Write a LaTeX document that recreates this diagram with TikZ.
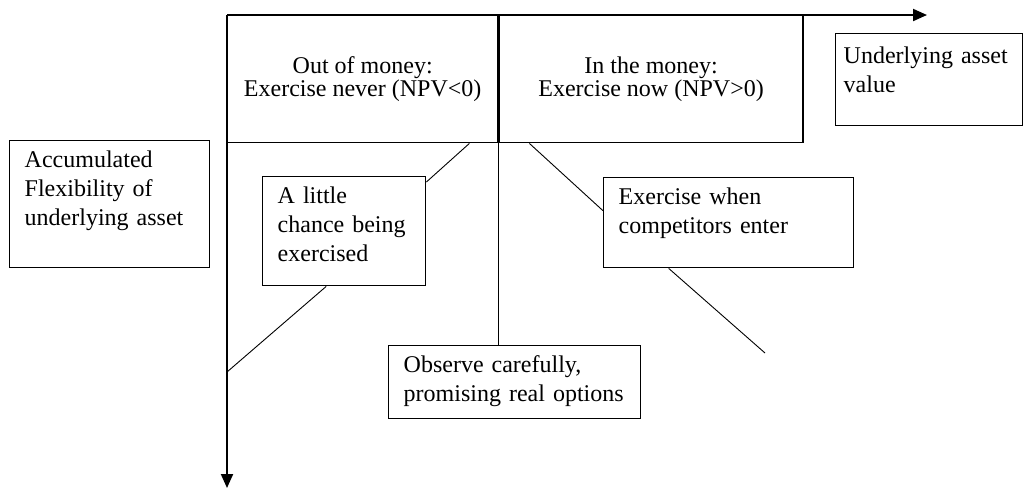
\documentclass[tikz,border=0pt]{standalone}
\usepackage{fontspec}
\setmainfont{Liberation Serif}
\usetikzlibrary{arrows.meta,positioning}

\tikzset{
	cell/.style={draw, line width=0.7pt, minimum height=63.5pt, inner sep=0pt, align=center, font=\fontsize{12}{11.5}\selectfont},
	note/.style={draw, line width=0.7pt, anchor=north west, align=left, inner xsep=7.5pt, inner ysep=0pt, text height=13.5pt, font=\fontsize{12}{14.5}\selectfont},
	link/.style={line width=0.45pt},
	axis/.style={line width=1pt, -{Triangle[length=7pt,width=6pt]}}
}

\begin{document}
\begin{tikzpicture}[x=0.5pt, y=-0.5pt]
			\useasboundingbox (0,0) rectangle (1027,489);

			\coordinate (o) at (227,15);
			\coordinate (xend) at (927,15);
			\coordinate (yend) at (227,488);

			\node[cell, anchor=north west, minimum width=135pt](out) at (o){Out of money:\\Exercise never (NPV<0)};
			\node[cell, right=0pt of out, minimum width=152pt](in){In the money:\\Exercise now (NPV>0)};

			\node[note, text width=85pt, text depth=50pt](acc) at (9,140){Accumulated\\Flexibility of\\underlying asset};
			\node[note, text width=66.5pt, text depth=41pt](little) at (262,176){A little\\chance being\\exercised};
			\node[note, text width=110pt, text depth=31.5pt](exer) at (603,177){Exercise when\\competitors enter};
			\node[note, text width=111pt, text depth=23pt](obs) at (388,345){Observe carefully,\\promising real options};
			\node[note, inner xsep=4pt, text width=85.5pt, text height=15pt, text depth=31pt](und) at (835,33){Underlying asset\\value};

			\coordinate (lowin) at (227,372);
			\coordinate (lowex) at (765,353);

			\draw[axis] (o) -- (xend);
			\draw[axis] (o) -- (yend);
			\draw[line width=0.7pt] (in.south west) -- (in.south west |- obs.north);

			\draw[link] ([yshift=-3pt]little.north east) -- ([xshift=-14.5pt]out.south east);
			\draw[link] ([xshift=-9pt]little.south) -- (lowin);
			\draw[link] ([xshift=15.5pt]in.south west) -- ([yshift=6pt]exer.west);
			\draw[link] ([xshift=-30pt]exer.south) -- (lowex);
		\end{tikzpicture}
\end{document}
